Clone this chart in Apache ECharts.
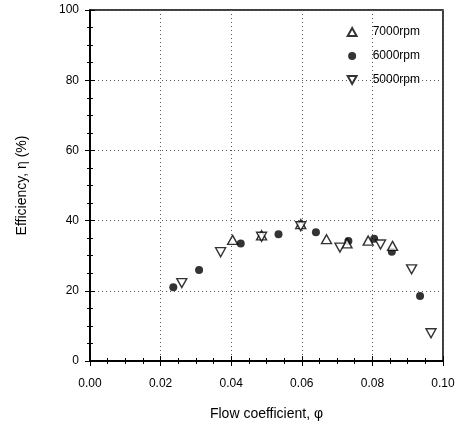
<!DOCTYPE html>
<html><head><meta charset="utf-8">
<script src="https://cdn.jsdelivr.net/npm/echarts@6/dist/echarts.min.js"></script>
<style>html,body{margin:0;padding:0;background:#fff}#c{width:459px;height:427px}</style>
</head><body><div id="c"></div>
<script>
const xTicks = [0.00, 0.02, 0.04, 0.06, 0.08, 0.10];
const yTicks = [0, 20, 40, 60, 80, 100];
const seriesNames = ['7000rpm', '6000rpm', '5000rpm'];
const phi7000 = [0.0404, 0.0486, 0.0597, 0.0670, 0.0728, 0.0788, 0.0857];
const eta7000 = [34.5, 35.8, 39.0, 34.7, 33.5, 34.3, 32.8];
const phi6000 = [0.0236, 0.0309, 0.0427, 0.0534, 0.0640, 0.0732, 0.0805, 0.0855, 0.0935];
const eta6000 = [21.0, 25.9, 33.5, 36.1, 36.7, 34.2, 34.8, 31.1, 18.5];
const phi5000 = [0.0260, 0.0370, 0.0486, 0.0597, 0.0708, 0.0823, 0.0911, 0.0966];
const eta5000 = [22.2, 31.0, 35.4, 38.4, 32.3, 33.2, 26.1, 7.9];

const zip = (a, b) => a.map((v, i) => [v, b[i]]);
const font = 'Liberation Sans, Arial, sans-serif';
const triUp = 'path://M5,0 L10,9 L0,9 Z';
const triDown = 'path://M0,0 L10,0 L5,9 Z';
const chart = echarts.init(document.getElementById('c'));
const tickStyle = {show: true, inside: true, length: 5, lineStyle: {color: '#000', width: 1}};
const minorTick = {show: true, splitNumber: 4, length: 3, lineStyle: {color: '#000', width: 1}};
chart.setOption({
  animation: false,
  backgroundColor: '#fff',
  grid: {left: 90, right: 16, top: 10, bottom: 66, show: true, borderColor: '#000', borderWidth: 1.5, backgroundColor: 'transparent'},
  legend: {
    orient: 'vertical', right: 34, top: 21, itemGap: 12, itemWidth: 9, itemHeight: 8,
    textStyle: {fontFamily: font, fontSize: 12, color: '#000', padding: [0, 0, 0, 11]},
    data: [
      {name: seriesNames[0], icon: triUp},
      {name: seriesNames[1], icon: 'circle'},
      {name: seriesNames[2], icon: triDown}
    ]
  },
  xAxis: [{
    type: 'value', min: xTicks[0], max: xTicks[xTicks.length - 1], interval: 0.02,
    name: 'Flow coefficient, \u03c6', nameLocation: 'middle', nameGap: 46,
    nameTextStyle: {fontFamily: font, fontSize: 14, color: '#000'},
    axisLine: {show: true, lineStyle: {color: '#000', width: 1.5}},
    axisTick: tickStyle, minorTick: minorTick,
    axisLabel: {fontFamily: font, fontSize: 12, color: '#000', margin: 17, formatter: v => v.toFixed(2)},
    splitLine: {show: true, lineStyle: {color: '#555', type: [1, 3], width: 1}}
  }, {
    type: 'value', position: 'top', min: xTicks[0], max: xTicks[xTicks.length - 1], interval: 0.02,
    axisLine: {show: true, lineStyle: {color: '#000', width: 1.5}},
    axisTick: tickStyle, minorTick: minorTick, axisLabel: {show: false}, splitLine: {show: false}
  }],
  yAxis: [{
    type: 'value', min: yTicks[0], max: yTicks[yTicks.length - 1], interval: 20,
    name: 'Efficiency, \u03b7 (%)', nameLocation: 'middle', nameGap: 61,
    nameTextStyle: {fontFamily: font, fontSize: 14, color: '#000'},
    axisLine: {show: true, lineStyle: {color: '#000', width: 1.5}},
    axisTick: tickStyle, minorTick: minorTick,
    axisLabel: {fontFamily: font, fontSize: 12, color: '#000', margin: 11},
    splitLine: {show: true, lineStyle: {color: '#555', type: [1, 3], width: 1}}
  }, {
    type: 'value', position: 'right', min: yTicks[0], max: yTicks[yTicks.length - 1], interval: 20,
    axisLine: {show: true, lineStyle: {color: '#000', width: 1.5}},
    axisTick: tickStyle, minorTick: minorTick, axisLabel: {show: false}, splitLine: {show: false}
  }],
  series: [{
    name: seriesNames[0], type: 'scatter', data: zip(phi7000, eta7000),
    symbol: triUp, symbolSize: [10, 9],
    itemStyle: {color: '#fff', borderColor: '#000', borderWidth: 1.4}, z: 3
  }, {
    name: seriesNames[1], type: 'scatter', data: zip(phi6000, eta6000),
    symbol: 'circle', symbolSize: 8,
    itemStyle: {color: '#000', borderColor: '#000', borderWidth: 0}, z: 2
  }, {
    name: seriesNames[2], type: 'scatter', data: zip(phi5000, eta5000),
    symbol: triDown, symbolSize: [10, 9],
    itemStyle: {color: '#fff', borderColor: '#000', borderWidth: 1.4}, z: 3
  }]
});
</script></body></html>
